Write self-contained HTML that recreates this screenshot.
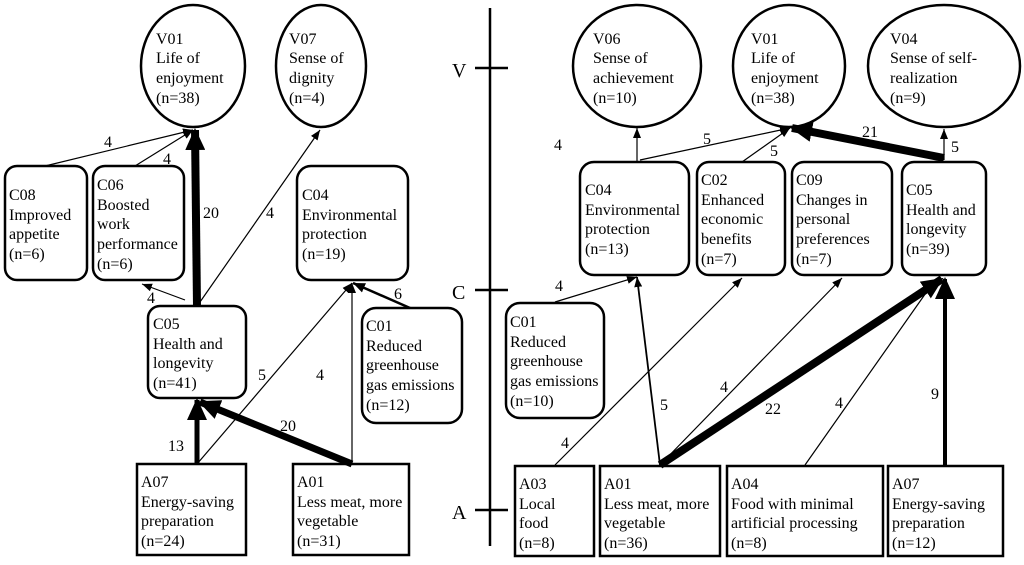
<!DOCTYPE html>
<html><head><meta charset="utf-8"><style>
body{margin:0;background:#fff}
svg{display:block}
svg text{font-family:"Liberation Serif","Times New Roman",Times,serif;font-size:16px;fill:#000}
</style></head><body>
<svg width="1024" height="565" viewBox="0 0 1024 565" xmlns="http://www.w3.org/2000/svg" font-family="Liberation Serif, Times New Roman, serif" font-size="16">
<defs>
<marker id="t" markerUnits="userSpaceOnUse" markerWidth="10" markerHeight="8" refX="10" refY="4" orient="auto"><path d="M0,0L10,4L0,8z"/></marker>
<marker id="m" markerUnits="userSpaceOnUse" markerWidth="12" markerHeight="10" refX="12" refY="5" orient="auto"><path d="M0,0L12,5L0,10z"/></marker>
<marker id="k" markerUnits="userSpaceOnUse" markerWidth="22" markerHeight="20" refX="20" refY="10" orient="auto"><path d="M0,0L22,10L0,20z"/></marker>
</defs>
<g fill="#fff" stroke="#000" stroke-width="2.5">
<ellipse cx="193" cy="66" rx="52" ry="61"/>
<ellipse cx="321" cy="66" rx="45" ry="61"/>
<rect x="5" y="166" width="82" height="114" rx="12"/>
<rect x="93" y="166" width="91" height="114" rx="12"/>
<rect x="297" y="166" width="111" height="114" rx="14"/>
<rect x="148" y="306" width="98" height="92" rx="12"/>
<rect x="362" y="308" width="100" height="115" rx="14"/>
<rect x="137" y="464" width="109" height="91" rx="0"/>
<rect x="293" y="464" width="116" height="91" rx="0"/>
<ellipse cx="637" cy="66" rx="64" ry="61"/>
<ellipse cx="789" cy="66" rx="56" ry="61"/>
<ellipse cx="944" cy="66" rx="76" ry="61"/>
<rect x="580" y="162" width="109" height="113" rx="14"/>
<rect x="697" y="162" width="88" height="113" rx="12"/>
<rect x="792" y="162" width="100" height="113" rx="12"/>
<rect x="902" y="162" width="84" height="113" rx="12"/>
<rect x="506" y="303" width="98" height="115" rx="14"/>
<rect x="515" y="466" width="79" height="90"/>
<rect x="600" y="466" width="120" height="90"/>
<rect x="727" y="466" width="156" height="90"/>
<rect x="888" y="466" width="115" height="90"/>
</g>
<g stroke="#000" stroke-width="2.5">
<line x1="490" y1="8" x2="490" y2="546"/>
<line x1="475" y1="68" x2="508" y2="68"/>
<line x1="475" y1="290" x2="508" y2="290"/>
<line x1="475" y1="510" x2="508" y2="510"/>
</g>
<g fill="none" stroke="#000">
<line x1="45" y1="166" x2="193" y2="130" stroke-width="1.2" marker-end="url(#t)"/>
<line x1="135" y1="166" x2="193" y2="130" stroke-width="1.2" marker-end="url(#t)"/>
<line x1="197" y1="306" x2="195" y2="130" stroke-width="8" marker-end="url(#k)"/>
<line x1="200" y1="302" x2="320" y2="130" stroke-width="1.2" marker-end="url(#t)"/>
<line x1="185" y1="300" x2="142" y2="284" stroke-width="1.2" marker-end="url(#t)"/>
<line x1="197" y1="464" x2="197" y2="400" stroke-width="5" marker-end="url(#k)"/>
<line x1="352" y1="464" x2="200" y2="402" stroke-width="7" marker-end="url(#k)"/>
<line x1="197" y1="464" x2="352" y2="283" stroke-width="1.2" marker-end="url(#t)"/>
<line x1="352" y1="464" x2="352" y2="283" stroke-width="1.2" marker-end="url(#t)"/>
<line x1="410" y1="308" x2="353" y2="283" stroke-width="2.5" marker-end="url(#m)"/>
<line x1="637" y1="162" x2="637" y2="128" stroke-width="1.2" marker-end="url(#t)"/>
<line x1="640" y1="160" x2="790" y2="128" stroke-width="1.2" marker-end="url(#t)"/>
<line x1="742" y1="162" x2="790" y2="128" stroke-width="1.2" marker-end="url(#t)"/>
<line x1="944" y1="158" x2="792" y2="128" stroke-width="8" marker-end="url(#k)"/>
<line x1="944" y1="160" x2="944" y2="129" stroke-width="1.2" marker-end="url(#t)"/>
<line x1="555" y1="302" x2="637" y2="277" stroke-width="1.2" marker-end="url(#t)"/>
<line x1="660" y1="465" x2="637" y2="277" stroke-width="1.8" marker-end="url(#t)"/>
<line x1="555" y1="465" x2="742" y2="278" stroke-width="1.2" marker-end="url(#t)"/>
<line x1="660" y1="465" x2="842" y2="278" stroke-width="1.2" marker-end="url(#t)"/>
<line x1="805" y1="465" x2="935" y2="280" stroke-width="1.2" marker-end="url(#t)"/>
<line x1="660" y1="465" x2="942" y2="279" stroke-width="8" marker-end="url(#k)"/>
<line x1="945" y1="465" x2="945" y2="279" stroke-width="4" marker-end="url(#k)"/>
</g>
<g>
<text x="104" y="147">4</text><text x="163" y="164">4</text><text x="203" y="218">20</text><text x="266" y="218">4</text>
<text x="147" y="303">4</text><text x="394" y="299">6</text><text x="258" y="380">5</text><text x="316" y="380">4</text>
<text x="168" y="451">13</text><text x="280" y="431">20</text>
<text x="554" y="150">4</text><text x="703" y="144">5</text><text x="770" y="156">5</text><text x="862" y="137">21</text><text x="951" y="152">5</text>
<text x="555" y="291">4</text><text x="561" y="448">4</text><text x="660" y="410">5</text><text x="720" y="392">4</text>
<text x="765" y="414">22</text><text x="835" y="408">4</text><text x="931" y="399">9</text>
<text x="452" y="77" style="font-size:20px">V</text><text x="452" y="299" style="font-size:20px">C</text><text x="452" y="519" style="font-size:20px">A</text>
</g>
<g>
<text x="156" y="44">V01</text><text x="156" y="63">Life of</text><text x="156" y="83">enjoyment</text><text x="156" y="103">(n=38)</text>
<text x="289" y="44">V07</text><text x="289" y="63">Sense of</text><text x="289" y="83">dignity</text><text x="289" y="103">(n=4)</text>
<text x="9" y="200">C08</text><text x="9" y="220">Improved</text><text x="9" y="239">appetite</text><text x="9" y="259">(n=6)</text>
<text x="97" y="190">C06</text><text x="97" y="210">Boosted</text><text x="97" y="229">work</text><text x="97" y="249">performance</text><text x="97" y="269">(n=6)</text>
<text x="302" y="200">C04</text><text x="302" y="220">Environmental</text><text x="302" y="239">protection</text><text x="302" y="259">(n=19)</text>
<text x="153" y="329">C05</text><text x="153" y="349">Health and</text><text x="153" y="368">longevity</text><text x="153" y="388">(n=41)</text>
<text x="366" y="331">C01</text><text x="366" y="351">Reduced</text><text x="366" y="370">greenhouse</text><text x="366" y="390">gas emissions</text><text x="366" y="410">(n=12)</text>
<text x="141" y="487">A07</text><text x="141" y="507">Energy-saving</text><text x="141" y="526">preparation</text><text x="141" y="546">(n=24)</text>
<text x="297" y="487">A01</text><text x="297" y="507">Less meat, more</text><text x="297" y="526">vegetable</text><text x="297" y="546">(n=31)</text>
<text x="593" y="44">V06</text><text x="593" y="63">Sense of</text><text x="593" y="83">achievement</text><text x="593" y="103">(n=10)</text>
<text x="751" y="44">V01</text><text x="751" y="63">Life of</text><text x="751" y="83">enjoyment</text><text x="751" y="103">(n=38)</text>
<text x="890" y="44">V04</text><text x="890" y="63">Sense of self-</text><text x="890" y="83">realization</text><text x="890" y="103">(n=9)</text>
<text x="585" y="195">C04</text><text x="585" y="215">Environmental</text><text x="585" y="234">protection</text><text x="585" y="254">(n=13)</text>
<text x="701" y="185">C02</text><text x="701" y="205">Enhanced</text><text x="701" y="224">economic</text><text x="701" y="244">benefits</text><text x="701" y="264">(n=7)</text>
<text x="796" y="185">C09</text><text x="796" y="205">Changes in</text><text x="796" y="224">personal</text><text x="796" y="244">preferences</text><text x="796" y="264">(n=7)</text>
<text x="906" y="195">C05</text><text x="906" y="215">Health and</text><text x="906" y="234">longevity</text><text x="906" y="254">(n=39)</text>
<text x="510" y="327">C01</text><text x="510" y="347">Reduced</text><text x="510" y="366">greenhouse</text><text x="510" y="386">gas emissions</text><text x="510" y="406">(n=10)</text>
<text x="519" y="489">A03</text><text x="519" y="509">Local</text><text x="519" y="528">food</text><text x="519" y="548">(n=8)</text>
<text x="604" y="489">A01</text><text x="604" y="509">Less meat, more</text><text x="604" y="528">vegetable</text><text x="604" y="548">(n=36)</text>
<text x="731" y="489">A04</text><text x="731" y="509">Food with minimal</text><text x="731" y="528">artificial processing</text><text x="731" y="548">(n=8)</text>
<text x="892" y="489">A07</text><text x="892" y="509">Energy-saving</text><text x="892" y="528">preparation</text><text x="892" y="548">(n=12)</text>
</g>
</svg>
</body></html>
